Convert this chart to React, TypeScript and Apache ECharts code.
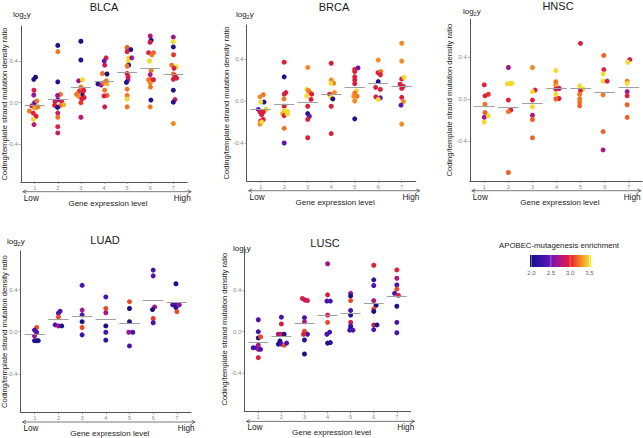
import React, { useEffect, useRef } from "react";
import * as echarts from "echarts";

const panelNames = ["BLCA", "BRCA", "HNSC", "LUAD", "LUSC"];
const xTicks = [1, 2, 3, 4, 5, 6, 7];
const yTicks = [-0.4, 0, 0.4];
const colorTicks = [2.0, 2.5, 3.0, 3.5];
const colorScale = ["#14107e", "#3212a8", "#6c14b8", "#b41680", "#e8202c", "#f58a22", "#f2ee30"];

// [x position (with jitter), log2 ratio, APOBEC enrichment]
const blcaPoints = [
  [1.04, 0.245, 2.05], [0.96, 0.224, 2.1], [0.97, 0.12, 2.95], [0.96, 0.074, 2.65], [1.0, 0.0, 2.3],
  [1.09, 0.016, 3.2], [0.87, -0.03, 2.95], [0.77, -0.08, 3.2], [0.99, -0.045, 3.2], [1.06, -0.05, 3.35],
  [1.14, -0.04, 3.2], [0.94, -0.1, 3.0], [1.06, -0.13, 2.95], [0.94, -0.16, 3.45], [0.97, -0.21, 2.8],
  [2.0, 0.55, 2.05], [2.0, 0.49, 3.2], [2.0, 0.2, 2.1], [2.12, 0.08, 3.2], [1.99, 0.07, 2.7],
  [2.0, 0.03, 2.5], [1.88, 0.01, 2.95], [2.17, 0.01, 2.95], [2.25, -0.02, 3.35], [2.1, -0.03, 3.2],
  [1.86, -0.025, 2.95], [1.99, -0.045, 2.1], [2.0, -0.1, 2.85], [2.0, -0.14, 3.2], [2.0, -0.23, 2.95],
  [2.0, -0.29, 2.85],
  [3.0, 0.59, 2.05], [3.0, 0.41, 2.1], [2.9, 0.21, 2.7], [3.07, 0.22, 3.45], [3.0, 0.15, 3.2],
  [3.12, 0.12, 2.95], [2.93, 0.11, 3.05], [3.09, 0.105, 2.95], [2.81, 0.08, 3.2], [3.06, 0.07, 2.1],
  [3.14, 0.05, 2.95], [2.91, 0.06, 3.25], [3.04, 0.035, 2.95], [3.0, 0.0, 3.05], [3.0, -0.14, 2.8],
  [4.09, 0.43, 2.95], [4.01, 0.4, 2.5], [4.03, 0.36, 2.85], [3.93, 0.28, 3.2], [4.13, 0.275, 2.05],
  [3.74, 0.18, 2.1], [3.88, 0.17, 2.65], [3.98, 0.19, 3.2], [4.13, 0.18, 3.35], [4.1, 0.21, 3.2],
  [4.03, 0.12, 3.2], [4.13, 0.07, 3.15], [4.0, 0.065, 2.95], [4.03, -0.04, 2.85],
  [5.0, 0.53, 3.15], [5.16, 0.51, 2.1], [5.0, 0.49, 2.95], [5.06, 0.43, 3.45], [5.2, 0.43, 2.7],
  [5.04, 0.39, 3.45], [5.07, 0.36, 2.2], [5.0, 0.35, 3.2], [5.0, 0.28, 2.95], [5.04, 0.25, 2.95],
  [5.04, 0.22, 2.75], [4.97, 0.195, 2.1], [5.0, 0.13, 3.2], [5.0, 0.07, 3.2], [5.0, 0.035, 3.45],
  [5.0, -0.04, 3.2],
  [6.0, 0.64, 2.75], [6.04, 0.6, 2.1], [5.99, 0.58, 2.9], [5.93, 0.48, 2.95], [6.14, 0.48, 3.15],
  [6.07, 0.46, 3.2], [5.97, 0.4, 3.45], [6.04, 0.31, 3.2], [6.0, 0.27, 2.75], [6.03, 0.22, 2.95],
  [6.14, 0.22, 2.95], [5.93, 0.22, 3.2], [6.0, 0.19, 3.25], [6.01, 0.15, 3.2], [6.03, 0.025, 2.1],
  [6.0, -0.04, 3.2],
  [7.0, 0.63, 2.65], [7.0, 0.585, 3.45], [7.0, 0.535, 2.1], [7.01, 0.46, 3.05], [6.93, 0.36, 3.2],
  [7.12, 0.345, 3.45], [7.03, 0.33, 2.9], [7.0, 0.275, 3.2], [7.07, 0.26, 2.95], [7.0, 0.225, 2.95],
  [7.14, 0.235, 2.95], [7.0, 0.12, 2.1], [7.07, 0.03, 2.85], [7.0, 0.005, 2.1], [7.0, -0.2, 3.25],
];
const blcaMeans = [-0.02, 0.03, 0.145, 0.205, 0.29, 0.33, 0.275];

const brcaPoints = [
  [1.11, 0.06, 3.2], [0.97, 0.04, 3.25], [1.14, -0.01, 2.1], [1.0, -0.01, 3.45], [0.9, -0.08, 2.45],
  [1.23, -0.08, 3.4], [0.97, -0.105, 2.95], [1.11, -0.105, 2.95], [1.04, -0.13, 2.95], [1.11, -0.175, 2.95],
  [1.0, -0.19, 2.95], [0.97, -0.22, 3.25], [1.04, -0.2, 3.45],
  [2.0, 0.37, 2.95], [2.0, 0.23, 2.1], [2.07, 0.08, 2.95], [2.0, 0.065, 2.95], [1.99, 0.02, 3.2],
  [2.0, -0.05, 2.95], [2.0, -0.09, 3.45], [2.14, -0.1, 3.45], [1.93, -0.12, 3.35], [2.0, -0.14, 2.95],
  [2.13, -0.125, 3.45], [2.0, -0.26, 3.2], [2.0, -0.4, 2.45],
  [3.0, 0.32, 3.25], [2.96, 0.11, 3.45], [3.03, 0.1, 3.2], [3.1, 0.08, 3.2], [3.17, 0.065, 2.95],
  [2.96, 0.05, 3.45], [3.14, 0.015, 2.95], [3.0, -0.05, 2.95], [3.0, -0.12, 2.1], [3.07, -0.145, 2.45],
  [3.0, -0.175, 2.95], [3.0, -0.35, 2.95],
  [4.0, 0.36, 2.95], [4.0, 0.2, 3.25], [4.1, 0.17, 3.2], [3.99, 0.17, 3.45], [4.14, 0.08, 3.25],
  [3.93, 0.065, 2.95], [3.99, 0.035, 3.45], [4.07, 0.02, 2.1], [4.0, -0.05, 2.95], [4.0, -0.31, 2.95],
  [5.14, 0.315, 2.45], [5.0, 0.3, 2.95], [5.0, 0.28, 2.95], [5.0, 0.23, 2.95], [5.0, 0.2, 2.95],
  [5.0, 0.165, 2.95], [5.07, 0.095, 3.45], [5.0, 0.075, 3.2], [5.1, 0.045, 3.2], [4.96, 0.045, 3.25],
  [5.0, 0.0, 3.25], [5.0, -0.17, 2.1],
  [6.0, 0.39, 3.25], [5.99, 0.27, 2.95], [6.11, 0.28, 3.2], [6.09, 0.25, 2.95], [6.0, 0.185, 2.1],
  [5.89, 0.13, 2.95], [6.09, 0.11, 2.95], [5.9, 0.04, 2.95], [6.09, 0.03, 2.45], [6.0, 0.015, 3.45],
  [7.0, 0.55, 3.25], [7.0, 0.38, 3.25], [7.0, 0.21, 2.95], [7.1, 0.225, 3.45], [6.93, 0.16, 2.95],
  [7.07, 0.14, 2.95], [7.0, 0.12, 2.95], [7.0, 0.035, 2.95], [7.07, -0.005, 3.25], [6.97, -0.04, 2.45],
  [7.0, -0.22, 3.25],
];
const brcaMeans = [-0.08, -0.03, -0.015, 0.065, 0.13, 0.17, 0.14];

const hnscPoints = [
  [1.0, 0.135, 2.95], [1.17, 0.045, 3.05], [1.03, 0.03, 2.95], [1.03, -0.05, 3.2], [1.03, -0.13, 3.15],
  [1.0, -0.175, 2.7], [1.17, -0.16, 3.45], [1.0, -0.22, 3.45],
  [2.0, 0.3, 2.7], [1.96, 0.145, 3.45], [2.07, 0.145, 3.45], [2.15, 0.15, 3.45], [2.0, -0.01, 2.95],
  [2.1, -0.105, 2.95], [2.0, -0.12, 3.2], [2.0, -0.7, 3.15],
  [3.0, 0.3, 3.25], [3.11, 0.085, 2.95], [3.0, 0.07, 3.45], [3.0, -0.01, 2.95], [3.0, -0.075, 3.45],
  [3.0, -0.155, 2.75], [3.0, -0.195, 3.15], [3.0, -0.37, 3.15],
  [3.97, 0.27, 3.45], [3.97, 0.165, 3.2], [3.97, 0.135, 3.2], [4.01, 0.12, 3.35], [3.97, 0.095, 2.95],
  [4.11, 0.1, 2.75], [3.97, 0.045, 3.45], [4.1, 0.005, 2.95], [3.97, 0.0, 3.15],
  [4.99, 0.53, 2.95], [4.96, 0.125, 3.45], [5.1, 0.095, 3.45], [4.99, 0.08, 2.95], [4.96, 0.045, 3.2],
  [4.96, 0.0, 3.2], [4.96, -0.03, 3.2], [4.96, -0.065, 3.15],
  [5.96, 0.415, 3.15], [5.96, 0.28, 2.95], [5.93, 0.24, 3.45], [5.93, 0.17, 3.45], [6.1, 0.17, 2.9],
  [5.93, 0.04, 3.2], [5.93, -0.31, 3.15], [5.93, -0.485, 2.7],
  [7.04, 0.375, 2.9], [6.96, 0.35, 3.45], [6.93, 0.17, 3.2], [6.93, 0.15, 3.45], [6.93, 0.07, 2.7],
  [6.93, 0.03, 2.95], [6.93, -0.055, 3.15], [6.93, -0.175, 3.15],
];
const hnscMeans = [-0.065, -0.075, -0.04, 0.1, 0.1, 0.065, 0.11];

const luadPoints = [
  [1.08, 0.04, 3.1], [0.99, 0.015, 2.35], [1.08, -0.005, 2.4], [0.99, -0.04, 2.65], [0.99, -0.085, 2.2],
  [1.08, -0.085, 2.15], [1.15, -0.085, 2.05],
  [2.07, 0.195, 2.35], [2.0, 0.175, 2.35], [2.0, 0.14, 3.1], [1.86, 0.065, 2.4], [2.0, 0.055, 2.7],
  [2.14, 0.055, 2.1],
  [3.0, 0.44, 2.35], [3.0, 0.205, 2.7], [3.0, 0.16, 2.4], [3.0, 0.095, 2.05], [3.0, 0.04, 3.1],
  [3.0, -0.03, 2.3],
  [4.0, 0.33, 2.35], [4.0, 0.22, 3.1], [4.0, 0.18, 2.7], [4.0, 0.055, 2.05], [4.0, -0.005, 2.35],
  [4.0, -0.08, 2.25],
  [5.0, 0.285, 3.1], [5.0, 0.22, 2.05], [5.0, 0.095, 2.1], [4.97, -0.005, 2.7], [5.14, -0.005, 2.35],
  [5.0, -0.135, 2.35],
  [6.0, 0.585, 2.35], [6.0, 0.53, 2.35], [6.06, 0.235, 2.7], [5.97, 0.21, 2.05], [6.0, 0.125, 3.05],
  [6.0, 0.085, 2.35],
  [6.96, 0.455, 2.05], [6.82, 0.255, 2.35], [6.96, 0.255, 2.35], [7.1, 0.255, 2.35], [6.96, 0.23, 2.15],
  [7.0, 0.19, 3.1], [7.07, 0.255, 2.6],
];
const luadMeans = [-0.02, 0.115, 0.15, 0.115, 0.08, 0.295, 0.275];

const luscPoints = [
  [1.0, 0.115, 2.35], [1.0, 0.0, 2.35], [1.0, -0.06, 2.05], [1.1, -0.05, 3.1], [0.78, -0.155, 2.35],
  [0.93, -0.155, 2.3], [1.0, -0.13, 2.7], [1.0, -0.17, 2.7], [1.1, -0.17, 2.35], [1.0, -0.25, 2.95],
  [2.0, 0.14, 2.35], [2.0, 0.075, 2.95], [1.87, -0.025, 2.7], [2.01, -0.025, 2.95], [2.12, -0.025, 2.1],
  [1.94, -0.09, 2.1], [1.87, -0.12, 2.1], [2.01, -0.12, 2.35], [2.12, -0.13, 3.1], [2.23, -0.11, 2.35],
  [2.91, 0.32, 2.95], [3.03, 0.305, 2.75], [3.13, 0.3, 2.95], [3.0, 0.135, 2.35], [3.0, 0.095, 2.7],
  [3.0, 0.005, 3.1], [3.13, -0.025, 2.35], [2.96, -0.025, 2.95], [3.0, -0.08, 2.15], [3.0, -0.215, 2.05],
  [4.0, 0.655, 2.7], [4.0, 0.355, 2.95], [3.97, 0.295, 2.35], [4.12, 0.295, 2.35], [4.0, 0.16, 2.9],
  [4.0, 0.09, 3.1], [4.09, -0.005, 2.35], [3.97, -0.025, 2.35], [4.0, -0.11, 2.1], [4.12, -0.105, 2.1],
  [5.0, 0.37, 2.7], [5.0, 0.345, 2.05], [5.0, 0.3, 3.1], [5.0, 0.205, 2.35], [5.0, 0.16, 2.1],
  [5.0, 0.09, 2.9], [5.0, 0.055, 2.35], [5.0, 0.03, 2.05], [5.1, 0.015, 2.35], [4.96, 0.015, 2.35],
  [6.0, 0.64, 2.95], [6.0, 0.5, 2.2], [6.0, 0.445, 2.35], [6.0, 0.3, 2.75], [6.1, 0.255, 2.05],
  [6.0, 0.22, 3.1], [6.0, 0.195, 2.05], [6.0, 0.065, 2.9], [6.14, 0.065, 2.1], [6.0, 0.02, 2.35],
  [7.0, 0.595, 2.95], [7.0, 0.515, 2.75], [7.0, 0.45, 2.35], [7.0, 0.41, 3.1], [6.9, 0.37, 2.35],
  [7.07, 0.35, 2.95], [7.0, 0.245, 2.05], [7.0, 0.09, 2.35], [7.0, -0.01, 2.35],
];
const luscMeans = [-0.1, -0.045, 0.08, 0.16, 0.175, 0.27, 0.34];

const allPoints = [blcaPoints, brcaPoints, hnscPoints, luadPoints, luscPoints];
const allMeans = [blcaMeans, brcaMeans, hnscMeans, luadMeans, luscMeans];

const FONT = "'Liberation Sans', Arial, Helvetica, sans-serif";

const layout = [
  { left: 20.8, top: 26, width: 166.4, height: 156, xMax: 7.6, yMin: -0.761, yMax: 0.736, tx: 104, ty: 7, lx: 13, ly: 14, gap: 12 },
  { left: 246.6, top: 25, width: 169.2, height: 156, xMax: 7.6, yMin: -0.762, yMax: 0.724, tx: 334, ty: 7.3, lx: 236, ly: 14, gap: 16 },
  { left: 469.8, top: 19.3, width: 172.3, height: 161.7, xMax: 7.55, yMin: -0.781, yMax: 0.759, tx: 558, ty: 6, lx: 463, ly: 11.7, gap: 16.5 },
  { left: 20.5, top: 251, width: 170.6, height: 161.3, xMax: 7.6, yMin: -0.765, yMax: 0.766, tx: 105, ty: 240, lx: 7, ly: 241.7, gap: 12 },
  { left: 244.4, top: 246.7, width: 166.3, height: 165, xMax: 7.6, yMin: -0.771, yMax: 0.819, tx: 325, ty: 242.7, lx: 233, ly: 248, gap: 16 },
];

const LEG = { x: 530, y: 255, w: 61, h: 12 };

export default function App() {
  const ref = useRef<HTMLDivElement>(null);
  useEffect(() => {
    if (!ref.current) return;
    const chart = echarts.init(ref.current, null, { renderer: "svg" });

    const grid: any[] = [];
    const xAxis: any[] = [];
    const yAxis: any[] = [];
    const series: any[] = [];
    const graphic: any[] = [];
    const scatterIdx: number[] = [];

    layout.forEach((L, i) => {
      grid.push({ left: L.left, top: L.top, width: L.width, height: L.height, containLabel: false, outerBoundsMode: "none" });
      xAxis.push({
        type: "value", gridIndex: i, min: 0.4, max: L.xMax,
        splitLine: { show: false },
        axisLine: { show: true, onZero: false, lineStyle: { color: "#555", width: 1 } },
        axisTick: { show: true, customValues: xTicks, length: 2, lineStyle: { color: "#777", width: 0.6 } },
        axisLabel: { show: true, customValues: xTicks, fontSize: 5.5, color: "#888", margin: 2.5, fontFamily: FONT },
      });
      yAxis.push({
        type: "value", gridIndex: i, min: L.yMin, max: L.yMax,
        splitLine: { show: false },
        axisLine: { show: true, onZero: false, lineStyle: { color: "#555", width: 1 } },
        axisTick: { show: true, customValues: yTicks, length: 2, lineStyle: { color: "#777", width: 0.6 } },
        axisLabel: {
          show: true, customValues: yTicks, fontSize: 6, color: "#888", margin: 3, fontFamily: FONT,
          formatter: (v: number) => v.toFixed(1),
        },
        name: "Coding/template strand mutation density ratio",
        nameLocation: "middle", nameRotate: 90, nameGap: L.gap, nameMoveOverlap: false,
        nameTextStyle: { fontSize: 7.6, color: "#222", fontFamily: FONT },
      });
      scatterIdx.push(series.length);
      series.push({
        type: "scatter", xAxisIndex: i, yAxisIndex: i, data: allPoints[i],
        symbolSize: 5, itemStyle: { opacity: 1 }, silent: true,
      });
      series.push({
        type: "lines", coordinateSystem: "cartesian2d", xAxisIndex: i, yAxisIndex: i, silent: true,
        lineStyle: { color: "#a0a0a0", width: 1, opacity: 1 }, z: 3,
        data: allMeans[i].map((m, k) => ({ coords: [[xTicks[k] - 0.43, m], [xTicks[k] + 0.43, m]] })),
      });

      // title
      graphic.push({
        type: "text", x: L.tx, y: L.ty,
        style: { text: panelNames[i], fontSize: 11, fill: "#1a1a1a", fontFamily: FONT, align: "center", verticalAlign: "middle" },
      });
      // log2y
      graphic.push({ type: "text", x: L.lx, y: L.ly, style: { text: "log", fontSize: 8, fill: "#222", fontFamily: FONT, verticalAlign: "middle" } });
      graphic.push({ type: "text", x: L.lx + 10.6, y: L.ly + 2.6, style: { text: "2", fontSize: 5.5, fill: "#222", fontFamily: FONT, verticalAlign: "middle" } });
      graphic.push({ type: "text", x: L.lx + 13.7, y: L.ly, style: { text: "y", fontSize: 8, fill: "#222", fontFamily: FONT, verticalAlign: "middle" } });

      // bottom arrow and labels
      const bottom = L.top + L.height;
      const x1 = L.left + 2;
      const x2 = Math.min(L.left + L.width + 4, 641);
      const ay = bottom + 9.7;
      graphic.push({ type: "line", shape: { x1, y1: ay, x2, y2: ay }, style: { stroke: "#555", lineWidth: 0.8 } });
      graphic.push({ type: "polyline", shape: { points: [[x1 + 3.5, ay - 1.8], [x1, ay], [x1 + 3.5, ay + 1.8]] }, style: { stroke: "#555", lineWidth: 0.8, fill: null } });
      graphic.push({ type: "polyline", shape: { points: [[x2 - 3.5, ay - 1.8], [x2, ay], [x2 - 3.5, ay + 1.8]] }, style: { stroke: "#555", lineWidth: 0.8, fill: null } });
      graphic.push({ type: "text", x: L.left + 3, y: bottom + 16, style: { text: "Low", fontSize: 8.2, fill: "#222", fontFamily: FONT, align: "left", verticalAlign: "middle" } });
      graphic.push({ type: "text", x: x2 - 0.5, y: bottom + 16, style: { text: "High", fontSize: 8.2, fill: "#222", fontFamily: FONT, align: "right", verticalAlign: "middle" } });
      graphic.push({ type: "text", x: L.left + L.width / 2 + 4, y: bottom + 21, style: { text: "Gene expression level", fontSize: 8, fill: "#222", fontFamily: FONT, align: "center", verticalAlign: "middle" } });
    });

    // colour legend
    const n = colorScale.length;
    graphic.push({
      type: "text", x: 559, y: 245,
      style: { text: "APOBEC-mutagenesis enrichment", fontSize: 7.8, fill: "#222", fontFamily: FONT, align: "center", verticalAlign: "middle" },
    });
    graphic.push({
      type: "rect", shape: { x: LEG.x, y: LEG.y, width: LEG.w, height: LEG.h },
      style: {
        fill: {
          type: "linear", x: 0, y: 0, x2: 1, y2: 0,
          colorStops: colorScale.map((c, k) => ({ offset: k / (n - 1), color: c })),
        },
      },
    });
    colorTicks.forEach((v) => {
      const tx = LEG.x + 1.5 + ((v - 2) / 1.5) * (LEG.w - 3);
      graphic.push({ type: "line", shape: { x1: tx, y1: LEG.y, x2: tx, y2: LEG.y + LEG.h }, style: { stroke: "rgba(255,255,255,0.6)", lineWidth: 0.6 } });
      graphic.push({ type: "text", x: tx, y: LEG.y + 18, style: { text: v.toFixed(1), fontSize: 6, fill: "#666", fontFamily: FONT, align: "center", verticalAlign: "middle" } });
    });

    chart.setOption({
      animation: false,
      backgroundColor: "#ffffff",
      textStyle: { fontFamily: FONT },
      grid, xAxis, yAxis, series, graphic,
      visualMap: {
        type: "continuous", show: false, min: 2, max: 3.5, dimension: 2,
        seriesIndex: scatterIdx, inRange: { color: colorScale },
      },
    });
    return () => chart.dispose();
  }, []);

  return <div ref={ref} style={{ position: "fixed", left: 0, top: 0, width: 643, height: 438, background: "#fff" }} />;
}
